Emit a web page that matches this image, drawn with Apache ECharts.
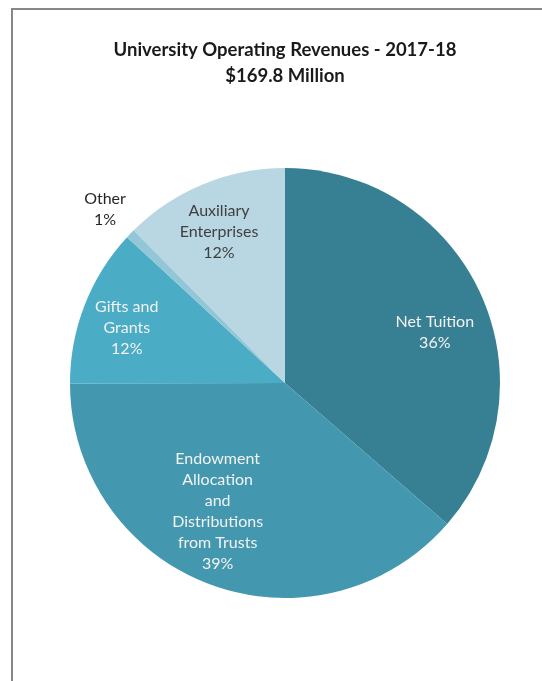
<!DOCTYPE html>
<html>
<head>
<meta charset="utf-8">
<style>
  html, body { margin: 0; padding: 0; background: #ffffff; }
  #chart { width: 542px; height: 681px; }
</style>
<script src="https://cdn.jsdelivr.net/npm/echarts@6/dist/echarts.min.js"></script>
</head>
<body>
<div id="chart"></div>
<script>
// Operating revenue sources, $ millions (total 169.8)
const categories = ['Net Tuition', 'Endowment Allocation and Distributions from Trusts', 'Gifts and Grants', 'Other', 'Auxiliary Enterprises'];
const labelLines = [
  'Net Tuition',
  'Endowment\nAllocation\nand\nDistributions\nfrom Trusts',
  'Gifts and\nGrants',
  'Other',
  'Auxiliary\nEnterprises'
];
const values = [61.8, 65.5, 20.2, 1.2, 21.1];
const colors = ['#377f93', '#4398b0', '#4bacc6', '#93c6d6', '#b9d7e2'];
const labelColors = ['#f2f2f2', '#f2f2f2', '#f2f2f2', '#262626', '#404040'];
// distance of each label from the pie centre, as a share of the radius,
// plus a small pixel nudge
const labelRadius = [0.74, 0.67, 0.78, 1.17, 0.77];
const labelNudge = [[5, 15], [-17, -7], [-2, 6], [1, 1], [-3, 2]];

const titleLines = ['University Operating Revenues - 2017-18', '$169.8 Million'];

const total = values.reduce((a, b) => a + b, 0);
const center = [285, 383];
const radius = 215;

// mid-angle (clockwise from 12 o'clock) of each slice
const midAngles = [];
let acc = 0;
values.forEach(v => {
  midAngles.push((acc + v / 2) / total * 2 * Math.PI);
  acc += v;
});

const chart = echarts.init(document.getElementById('chart'), null, { renderer: 'canvas' });

chart.setOption({
  animation: false,
  backgroundColor: '#ffffff',
  title: {
    text: titleLines.join('\n'),
    left: 280,
    top: 32,
    textAlign: 'center',
    textStyle: {
      fontFamily: 'Lato',
      fontWeight: 'bold',
      fontSize: 18.5,
      lineHeight: 26,
      color: '#1a1a1a'
    }
  },
  graphic: [{
    type: 'rect',
    shape: { x: 12, y: 9, width: 620, height: 720 },
    style: { fill: null, stroke: '#878787', lineWidth: 2 },
    silent: true
  }],
  series: [{
    type: 'pie',
    center: center,
    radius: radius,
    startAngle: 90,
    clockwise: true,
    avoidLabelOverlap: false,
    itemStyle: { borderWidth: 0 },
    label: {
      show: true,
      position: 'inside',
      fontFamily: 'Lato',
      fontSize: 16,
      lineHeight: 21,
      align: 'center',
      formatter: p => labelLines[p.dataIndex] + '\n' + Math.round(p.value / total * 100) + '%'
    },
    labelLine: { show: false },
    labelLayout: p => {
      const i = p.dataIndex;
      const a = midAngles[i];
      const r = radius * labelRadius[i];
      return {
        x: center[0] + Math.sin(a) * r + labelNudge[i][0],
        y: center[1] - Math.cos(a) * r + labelNudge[i][1],
        align: 'center',
        verticalAlign: 'middle'
      };
    },
    data: categories.map((name, i) => ({
      name: name,
      value: values[i],
      itemStyle: { color: colors[i] },
      label: { color: labelColors[i] }
    }))
  }]
});
</script>
</body>
</html>
